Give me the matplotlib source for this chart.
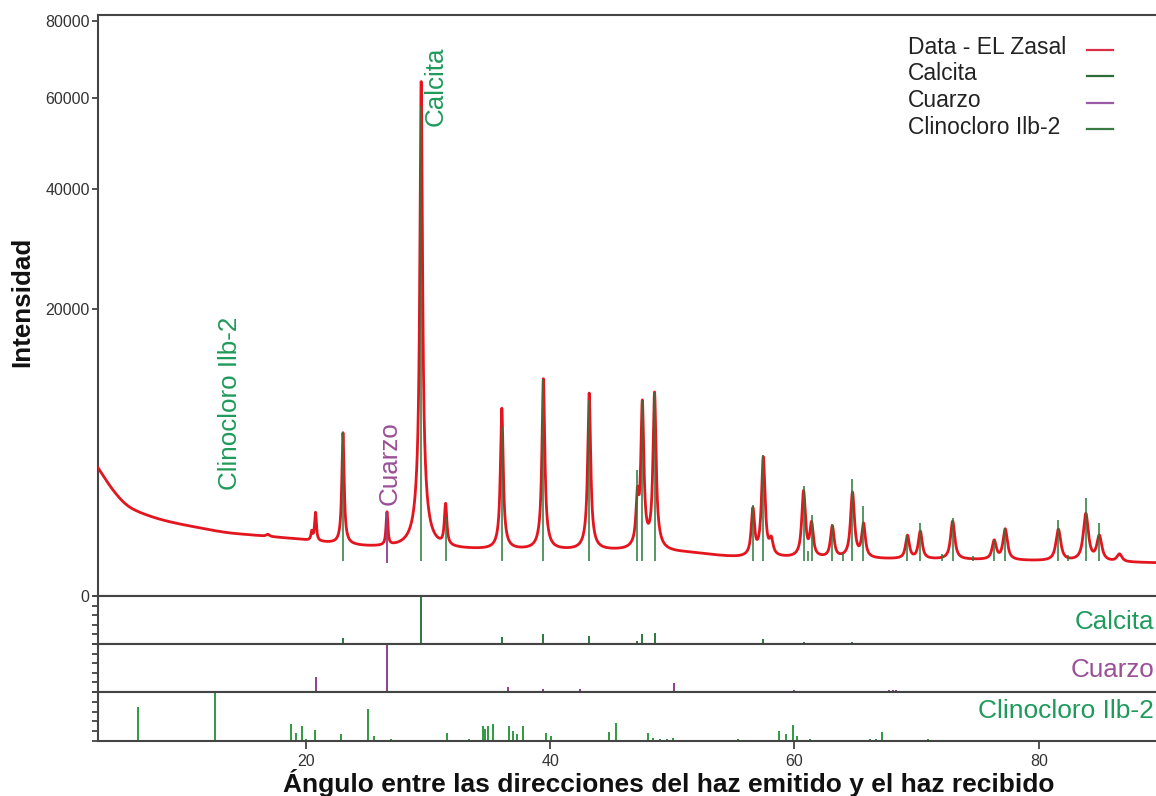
import numpy as np
import matplotlib
matplotlib.use("Agg")
import matplotlib.pyplot as plt
from matplotlib.lines import Line2D

plt.rcParams['font.family'] = ['Liberation Sans', 'DejaVu Sans']

# ---------------- data ----------------
# background of the measured pattern (2theta, counts)
bg_x = [3, 4, 5.4, 8.2, 10.9, 13.6, 16.4, 19.1, 25, 34, 45, 51.4, 55.5, 65, 74.6, 89.6]
bg_y = [3980, 2890, 1924, 1403, 1156, 964, 874, 789, 583, 514, 492, 449, 351, 330, 315, 265]

# peaks of the measured pattern: position, net height, FWHM
pk_pos = [16.9, 20.5, 20.8, 23.05, 26.65, 29.45, 31.45, 36.05, 39.45, 43.2, 47.15, 47.55,
          48.55, 56.6, 57.45, 58.1, 60.75, 61.4, 63.1, 64.75, 65.65, 69.25, 70.3, 72.95,
          76.35, 77.25, 81.6, 83.85, 84.95, 86.6]
pk_h = [60, 250, 950, 5800, 1080, 63500, 1420, 8000, 10900, 9450, 1800, 8600,
        9500, 1450, 4300, 350, 2300, 900, 830, 2250, 900, 550, 680, 1030,
        420, 770, 780, 1350, 580, 140]
pk_w = [0.3, 0.16, 0.16, 0.18, 0.16, 0.19, 0.21, 0.21, 0.21, 0.22, 0.23, 0.23,
        0.23, 0.27, 0.27, 0.32, 0.29, 0.29, 0.31, 0.31, 0.31, 0.33, 0.33, 0.35,
        0.37, 0.37, 0.41, 0.41, 0.43, 0.46]

# Calcita reference: position, relative intensity (%), stick top in main panel
calc_pos = [23.05, 29.45, 31.45, 36.05, 39.45, 43.2, 47.15, 47.55, 48.55, 56.6, 57.45,
            60.75, 61.1, 61.4, 63.1, 64.0, 64.75, 65.65, 69.25, 70.3, 72.1, 72.95, 74.6,
            76.35, 77.25, 81.6, 82.4, 83.85, 84.95]
calc_rel = [12, 100, 3, 14, 20, 17, 7, 20, 23, 3, 10,
            4, 2, 3, 3, 2, 4, 3, 2, 3, 1.5, 2, 1.5,
            2, 2, 3, 1.5, 3, 2]
calc_top = [6500, 58000, 1500, 6900, 11400, 9300, 3860, 9330, 10100, 2010, 4830,
            2940, 500, 1590, 1250, 450, 3330, 1970, 900, 1290, 420, 1480, 380,
            760, 1120, 1400, 400, 2330, 1290]

# Cuarzo reference
qz_pos = [20.85, 26.65, 36.55, 39.45, 40.3, 42.45, 45.8, 50.15, 54.9, 55.3, 59.95, 64.0,
          67.7, 68.1, 68.3, 73.5, 75.6, 77.7, 79.9, 80.9, 81.5, 83.8]
qz_rel = [32, 100, 10, 6, 3, 6, 2, 18, 3, 2, 5, 2,
          4, 4, 4, 2, 2, 2, 2, 2, 2, 2]
qz_top = 1714  # main-panel stick top of the 26.65 line

# Clinocloro IIb-2 reference
cl_pos = [6.3, 12.55, 18.8, 19.2, 19.7, 20.05, 20.8, 21.95, 22.9, 24.1, 25.1, 25.6, 27.0,
          28.3, 30.3, 31.6, 33.4, 34.5, 34.7, 34.9, 35.3, 36.6, 37.0, 37.3, 37.8, 39.7,
          40.1, 41.2, 43.5, 44.1, 44.8, 45.4, 46.9, 48.0, 48.4, 49.0, 49.6, 50.1, 52.3,
          53.1, 54.7, 55.4, 57.7, 58.7, 59.3, 59.9, 60.2, 61.3, 63.1, 65.6, 66.2, 66.7,
          67.2, 70.9, 72.0, 73.0, 73.5, 77.9, 80.7, 81.2, 85.6, 86.5, 87.2]
cl_rel = [70, 100, 35, 17, 31, 5, 23, 3, 14, 3, 66, 10, 4,
          2, 2, 16, 5, 30, 25, 30, 35, 31, 20, 15, 30, 17,
          10, 2, 2, 3, 19, 37, 2, 16, 6, 4, 4, 6, 2,
          2, 2, 4, 2, 20, 14, 33, 10, 4, 2, 3, 4, 5,
          19, 5, 2, 2, 2, 2, 2, 3, 2, 2, 2]

stick_base = 300
x_ticks = [20, 40, 60, 80]
y_ticks = [0, 20000, 40000, 60000, 80000]

# ---------------- measured curve ----------------
tt = np.arange(3.0, 89.6, 0.01)
bg = np.exp(np.interp(np.log(tt), np.log(bg_x), np.log(bg_y)))
# light smoothing of the background so the anchor points do not show as kinks
k = np.exp(-0.5 * (np.arange(-150, 151) / 50.0) ** 2)
k /= k.sum()
bg_pad = np.pad(bg, 150, mode='reflect', reflect_type='odd')
bg = np.convolve(bg_pad, k, mode='same')[150:-150]
counts = bg.copy()
for p, h, w in zip(pk_pos, pk_h, pk_w):
    d = (tt - p) / w
    lor = 1.0 / (1.0 + 4.0 * d ** 2)
    gau = np.exp(-4.0 * np.log(2) * d ** 2)
    counts = counts + h * (0.85 * lor + 0.15 * gau)

# ---------------- colours ----------------
RED = '#e3151e'
CALC = '#2b7a3b'
QZ = '#8e3f8e'
CLIN = '#2f9a3f'
TXT_G = '#1e9a5a'
TXT_P = '#9a4f96'
SPINE = '#444444'

# ---------------- figure ----------------
W_PX, H_PX = 1156, 796
fig = plt.figure(figsize=(W_PX / 100, H_PX / 100), dpi=100)
L = 98 / W_PX
R = 1161 / W_PX
ax = fig.add_axes([L, 1 - 596 / H_PX, R - L, (596 - 15) / H_PX])
axc = fig.add_axes([L, 1 - 644 / H_PX, R - L, 48 / H_PX], sharex=ax)
axq = fig.add_axes([L, 1 - 692 / H_PX, R - L, 48 / H_PX], sharex=ax)
axk = fig.add_axes([L, 1 - 741 / H_PX, R - L, 49 / H_PX], sharex=ax)

ax.set_yscale('function', functions=(lambda v: np.sqrt(np.clip(v, 0, None)),
                                     lambda v: np.square(v)))
ax.plot(tt, counts, color=RED, lw=2.0, zorder=3)
ax.vlines(calc_pos, stick_base, calc_top, color=CALC, lw=1.3, alpha=0.85, zorder=4)
ax.vlines([qz_pos[1]], stick_base - 40, qz_top, color=QZ, lw=1.3, zorder=4)
ax.set_xlim(3, 90)
ax.set_ylim(0, 81700)
ax.set_yticks(y_ticks)
ax.set_yticklabels([str(v) for v in y_ticks])

axc.vlines(calc_pos, 0, calc_rel, color=CALC, lw=1.4)
axq.vlines(qz_pos, 0, qz_rel, color=QZ, lw=1.4)
axk.vlines(cl_pos, 0, cl_rel, color=CLIN, lw=1.4)

for a in (ax, axc, axq, axk):
    for s in a.spines.values():
        s.set_color(SPINE)
        s.set_linewidth(1.5)
    a.tick_params(axis='y', direction='out', length=4, width=1.3, color=SPINE,
                  labelsize=11.5, labelcolor='#333333', pad=2)
    a.tick_params(axis='x', bottom=False, labelbottom=False)

for a in (axc, axq, axk):
    a.set_ylim(0, 100)
    a.set_yticks([0, 20, 40, 60, 80, 100])
    a.set_yticklabels([])

axk.tick_params(axis='x', bottom=True, labelbottom=True, direction='out', length=6,
                width=1.3, color=SPINE, labelsize=11.5, labelcolor='#333333', pad=3)
axk.set_xticks(x_ticks)

# phase labels in the main panel
ax.text(30.64, 53430, 'Calcita', rotation=90, ha='center', va='bottom',
        color=TXT_G, fontsize=18.7)
ax.text(26.88, 2011, 'Cuarzo', rotation=90, ha='center', va='bottom',
        color=TXT_P, fontsize=18.7)
ax.text(13.78, 2729, 'Clinocloro Ilb-2', rotation=90, ha='center', va='bottom',
        color=TXT_G, fontsize=18.7)

# labels of the stick panels
RX = 1154 / W_PX
fig.text(RX, 1 - 629 / H_PX, 'Calcita', ha='right', va='baseline',
         color=TXT_G, fontsize=18.7)
fig.text(RX, 1 - 677 / H_PX, 'Cuarzo', ha='right', va='baseline',
         color=TXT_P, fontsize=18.7)
fig.text(RX, 1 - 718 / H_PX, 'Clinocloro Ilb-2', ha='right', va='baseline',
         color=TXT_G, fontsize=19.0)

# axis titles
fig.text(22 / W_PX, 1 - 302 / H_PX, 'Intensidad', rotation=90, ha='center', va='center',
         fontsize=18.7, fontweight='bold', color='#111111')
fig.text(669 / W_PX, 1 - 792 / H_PX,
         'Ángulo entre las direcciones del haz emitido y el haz recibido',
         ha='center', va='baseline', fontsize=19, fontweight='bold', color='#111111')

# legend (text left aligned, line samples on the right)
leg_labels = ['Data - EL Zasal', 'Calcita', 'Cuarzo', 'Clinocloro Ilb-2']
leg_colors = ['#d9304a', '#2d6a3a', '#9a5aa8', '#3a7a45']
for i, (lab, col) in enumerate(zip(leg_labels, leg_colors)):
    yb = 54 + i * 26.5
    fig.text(908 / W_PX, 1 - yb / H_PX, lab, ha='left', va='baseline',
             fontsize=16.5, color='#222222')
    fig.add_artist(Line2D([1087 / W_PX, 1113 / W_PX], [1 - (yb - 4.5) / H_PX] * 2,
                          transform=fig.transFigure, color=col, lw=1.6))

fig.savefig('out.png', dpi=100)
